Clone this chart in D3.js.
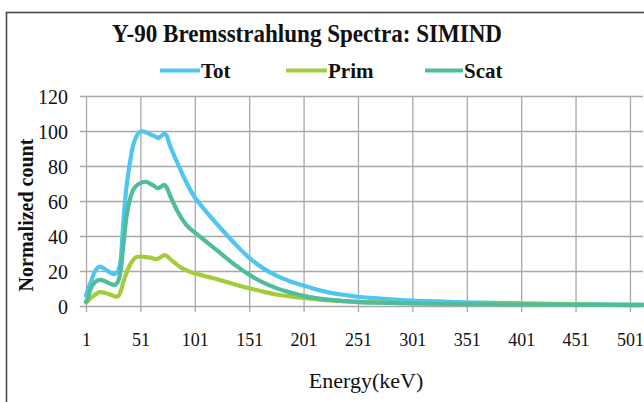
<!DOCTYPE html>
<html>
<head>
<meta charset="utf-8">
<script src="https://cdn.jsdelivr.net/npm/d3@7"></script>
<style>
html, body { margin: 0; padding: 0; background: #ffffff; }
svg { display: block; }
svg text { font-family: "Liberation Serif", "DejaVu Serif", serif; }
</style>
</head>
<body>
<svg id="chart" width="644" height="402"></svg>
<script>
// ---- data ----
const energy = [1, 2, 5, 9, 14, 18, 23, 27, 30, 33, 35, 38, 41, 44, 47, 52, 56, 61, 65, 67, 70, 73, 75, 78, 82, 87, 93, 100, 106, 112, 124, 138, 152, 164, 176, 189, 201, 214, 226, 239, 251, 266, 281, 301, 326, 351, 376, 401, 426, 451, 476, 501, 513];
const tot  = [6, 8, 13, 19.5, 22.5, 21.3, 19.2, 18.2, 19.5, 27, 45, 67, 80.5, 91, 96.5, 99.8, 99.3, 97.8, 96.8, 96, 97, 98.5, 97.5, 92, 86, 79, 71, 63, 58, 53.5, 45, 35.5, 27, 21.5, 17.3, 14, 11.7, 9.2, 7.5, 6.3, 5.3, 4.5, 3.8, 3.1, 2.6, 2.1, 1.8, 1.5, 1.3, 1.1, 0.9, 0.8, 0.7];
const prim = [2, 2.5, 4.5, 6.3, 8, 7.6, 6.6, 5.6, 5.3, 8.5, 13, 18.5, 23, 26, 27.8, 28.3, 27.9, 27.5, 26.8, 27, 28, 29.1, 28.7, 27, 25, 22.5, 20.5, 18.8, 17.8, 16.8, 14.9, 12.3, 10, 8.2, 6.6, 5.5, 4.6, 3.8, 3.2, 2.8, 2.4, 2.1, 1.8, 1.6, 1.4, 1.2, 1.1, 1.0, 0.9, 0.8, 0.7, 0.6, 0.6];
const scat = [2.5, 3.4, 9.5, 13.5, 14.9, 14.3, 12.8, 12, 13.5, 21, 33, 50, 60, 66, 68.5, 70.5, 71, 69.5, 68, 67.3, 68.2, 69.2, 68, 63.5, 58, 52, 46.5, 42.5, 39.5, 36.5, 30.5, 23.5, 17.5, 13.3, 10.2, 7.7, 5.8, 4.4, 3.5, 2.8, 2.2, 1.9, 1.7, 1.5, 1.3, 1.1, 1.0, 0.9, 0.8, 0.7, 0.6, 0.5, 0.5];
const seriesNames = ["Tot", "Prim", "Scat"];
const seriesColors = ["#4ec6f0", "#a3cc3b", "#4fbd9c"];
const xTicks = [1, 51, 101, 151, 201, 251, 301, 351, 401, 451, 501];
const yTicks = [0, 20, 40, 60, 80, 100, 120];
const titleText = "Y-90 Bremsstrahlung Spectra: SIMIND";
const xLabel = "Energy(keV)";
const yLabel = "Normalized count";

const seriesValues = [tot, prim, scat];

// ---- layout ----
const svg = d3.select("#chart");
const plotLeft = 86, plotRight = 643, plotTop = 96, plotBottom = 306;
const serif = "Liberation Serif, DejaVu Serif, serif";
const gridColor = "#a8a8a8";

// outer chart frame
svg.append("rect")
  .attr("x", 6.5).attr("y", 12.5)
  .attr("width", 700).attr("height", 500)
  .attr("fill", "none").attr("stroke", "#4a4a4a").attr("stroke-width", 1.6);

const x = d3.scaleLinear().domain([1, 513]).range([plotLeft, plotRight]);
const y = d3.scaleLinear().domain([0, 120]).range([plotBottom, plotTop]);

// y axis with gridlines
const yAxis = svg.append("g")
  .attr("transform", `translate(${plotLeft},0)`)
  .call(d3.axisLeft(y).tickValues(yTicks).tickSizeInner(-(plotRight - plotLeft)).tickSizeOuter(0).tickPadding(0));
yAxis.attr("font-family", null).attr("font-size", null);
yAxis.select(".domain").remove();
yAxis.selectAll(".tick line")
  .attr("x1", -6)
  .attr("stroke", gridColor).attr("stroke-width", 1.3);
yAxis.selectAll(".tick text")
  .attr("x", -18)
  .attr("dy", "0.38em")
  .attr("fill", "#111")
  .attr("font-family", serif).attr("font-size", 20);

// x axis with gridlines
const xAxis = svg.append("g")
  .attr("transform", `translate(0,${plotBottom})`)
  .call(d3.axisBottom(x).tickValues(xTicks).tickSizeInner(-(plotBottom - plotTop)).tickSizeOuter(0).tickPadding(0));
xAxis.attr("font-family", null).attr("font-size", null);
xAxis.select(".domain").remove();
xAxis.selectAll(".tick line")
  .attr("y1", 6)
  .attr("stroke", gridColor).attr("stroke-width", 1.3);
xAxis.selectAll(".tick text")
  .attr("y", 40)
  .attr("dy", "0")
  .attr("fill", "#111")
  .attr("font-family", serif).attr("font-size", 18);

// lines
const line = d3.line()
  .x((d, i) => x(energy[i]))
  .y(d => y(d))
  .curve(d3.curveMonotoneX);

seriesValues.forEach((vals, k) => {
  svg.append("path")
    .datum(vals)
    .attr("d", line)
    .attr("fill", "none")
    .attr("stroke", seriesColors[k])
    .attr("stroke-width", 4.2)
    .attr("stroke-linejoin", "round")
    .attr("stroke-linecap", "round");
});

// title
svg.append("text")
  .attr("x", 112).attr("y", 42)
  .attr("textLength", 390).attr("lengthAdjust", "spacingAndGlyphs")
  .attr("fill", "#111")
  .attr("font-family", serif).attr("font-size", 26).attr("font-weight", "bold")
  .text(titleText);

// legend
const legendItems = [
  { lx1: 160, lx2: 200, tx: 201 },
  { lx1: 286, lx2: 327, tx: 328 },
  { lx1: 425, lx2: 463, tx: 464 }
];
legendItems.forEach((it, k) => {
  svg.append("line")
    .attr("x1", it.lx1).attr("x2", it.lx2)
    .attr("y1", 70.5).attr("y2", 70.5)
    .attr("stroke", seriesColors[k]).attr("stroke-width", 4.2);
  svg.append("text")
    .attr("x", it.tx).attr("y", 78)
    .attr("fill", "#111")
    .attr("font-family", serif).attr("font-size", 21).attr("font-weight", "bold")
    .text(seriesNames[k]);
});

// axis titles
svg.append("text")
  .attr("x", 366).attr("y", 388)
  .attr("text-anchor", "middle")
  .attr("fill", "#111")
  .attr("font-family", serif).attr("font-size", 22)
  .text(xLabel);

svg.append("text")
  .attr("transform", "translate(33,215) rotate(-90)")
  .attr("text-anchor", "middle")
  .attr("fill", "#111")
  .attr("font-family", serif).attr("font-size", 20).attr("font-weight", "bold")
  .text(yLabel);
</script>
</body>
</html>
